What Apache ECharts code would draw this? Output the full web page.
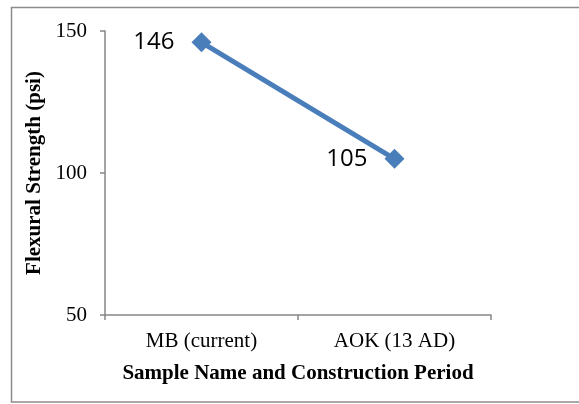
<!DOCTYPE html>
<html>
<head>
<meta charset="utf-8">
<script src="https://cdn.jsdelivr.net/npm/echarts@6/dist/echarts.min.js"></script>
<style>
html,body{margin:0;padding:0;background:#fff;overflow:hidden;}
#chart{width:579px;height:404px;}
</style>
</head>
<body>
<div id="chart"></div>
<script>
const categories = ['MB (current)', 'AOK (13 AD)'];
const strengthValues = [146, 105];
const yTicks = [50, 100, 150];

const chart = echarts.init(document.getElementById('chart'), null, {renderer: 'canvas'});
const serif = '"Liberation Serif", "Times New Roman", serif';
const axisColor = '#868686';

chart.setOption({
  animation: false,
  backgroundColor: '#ffffff',
  graphic: [{
    type: 'polyline',
    shape: {points: [[579, 7.5], [11.5, 7.5], [11.5, 402], [579, 402]]},
    style: {fill: null, stroke: '#8c8c8c', lineWidth: 1.5},
    silent: true,
    z: -1
  }],
  grid: {left: 105, right: 88, top: 31, bottom: 89, containLabel: false},
  xAxis: {
    type: 'category',
    data: categories,
    boundaryGap: true,
    name: 'Sample Name and Construction Period',
    nameLocation: 'middle',
    nameGap: 48,
    nameTextStyle: {fontFamily: serif, fontWeight: 'bold', fontSize: 21, color: '#000'},
    axisLine: {lineStyle: {color: axisColor, width: 1.5}},
    axisTick: {show: true, length: 5, lineStyle: {color: axisColor, width: 1.5}, alignWithLabel: false},
    axisLabel: {fontFamily: serif, fontSize: 21, color: '#000', margin: 16},
    splitLine: {show: false}
  },
  yAxis: {
    type: 'value',
    min: yTicks[0],
    max: yTicks[yTicks.length - 1],
    interval: yTicks[1] - yTicks[0],
    name: 'Flexural Strength (psi)',
    nameLocation: 'middle',
    nameGap: 57,
    nameTextStyle: {fontFamily: serif, fontWeight: 'bold', fontSize: 21, color: '#000'},
    axisLine: {show: true, lineStyle: {color: axisColor, width: 1.5}},
    axisTick: {show: true, length: 5, lineStyle: {color: axisColor, width: 1.5}},
    axisLabel: {fontFamily: serif, fontSize: 21, color: '#000', margin: 18},
    splitLine: {show: false}
  },
  series: [{
    type: 'line',
    data: strengthValues,
    symbol: 'diamond',
    symbolSize: 20,
    lineStyle: {color: '#4a7ebb', width: 5},
    itemStyle: {color: '#4a7ebb'},
    label: {
      show: true,
      position: 'left',
      distance: 17,
      fontFamily: '"Open Sans", "Noto Sans", sans-serif',
      fontSize: 24,
      color: '#000'
    }
  }]
});
</script>
</body>
</html>
